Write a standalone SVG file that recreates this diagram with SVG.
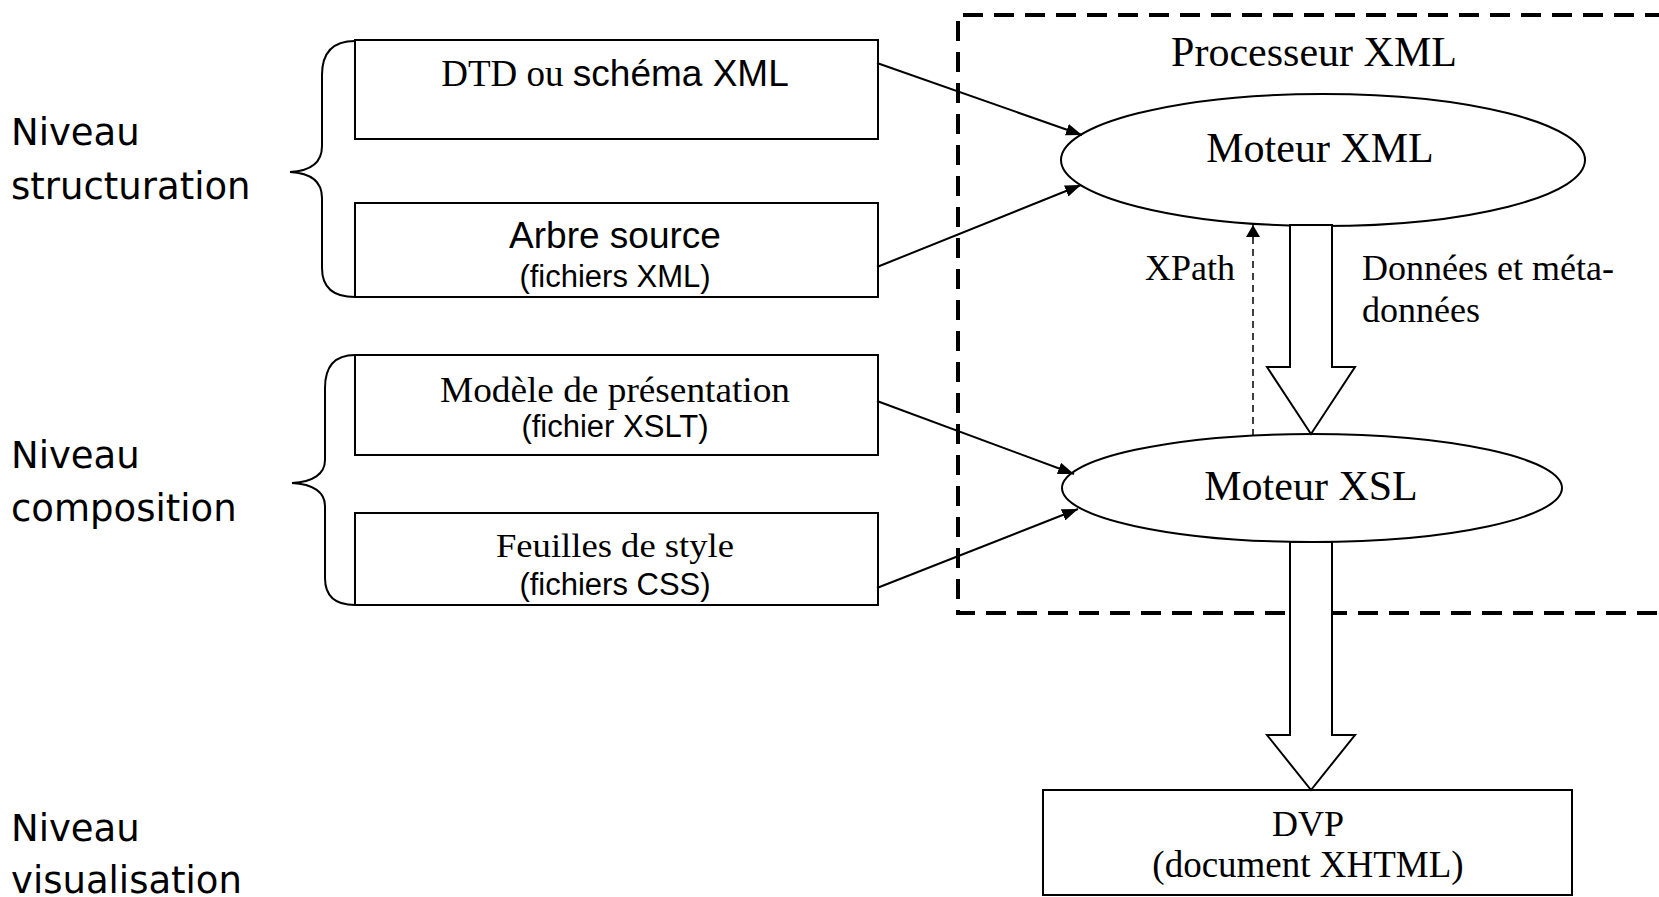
<svg xmlns="http://www.w3.org/2000/svg" width="1659" height="897" viewBox="0 0 1659 897">
<style>
.box{fill:#fff;stroke:#000;stroke-width:2}
.ell{fill:#fff;stroke:#000;stroke-width:2}
.brace{fill:none;stroke:#000;stroke-width:2}
.line{fill:none;stroke:#000;stroke-width:2}
.dline{fill:none;stroke:#000;stroke-width:1.5;stroke-dasharray:7 5}
.frame{fill:none;stroke:#000;stroke-width:4;stroke-dasharray:20 11}
.block{fill:#fff;stroke:#000;stroke-width:2;stroke-linejoin:miter}
.serif{font-family:"Liberation Serif","Times New Roman",serif;fill:#000}
.sans{font-family:"Liberation Sans",Arial,sans-serif;fill:#000}
.lbl{font-family:"DejaVu Sans",Verdana,sans-serif;font-size:37px;fill:#000}
</style>
<defs>
<marker id="ah" viewBox="0 0 16 12" refX="16" refY="6" markerWidth="16" markerHeight="12" markerUnits="userSpaceOnUse" orient="auto">
<path d="M0,0 L16,6 L0,12 Z" fill="#000"/>
</marker>
<marker id="ahs" viewBox="0 0 12 14" refX="12" refY="7" markerWidth="12" markerHeight="14" markerUnits="userSpaceOnUse" orient="auto">
<path d="M0,0 L12,7 L0,14 Z" fill="#000"/>
</marker>
</defs>

<g id="labels">
<text class="lbl" x="11" y="145">Niveau</text>
<text class="lbl" x="11" y="199">structuration</text>
<text class="lbl" x="11" y="468">Niveau</text>
<text class="lbl" x="11" y="521">composition</text>
<text class="lbl" x="11" y="841">Niveau</text>
<text class="lbl" x="11" y="893">visualisation</text>
</g>

<g id="braces">
<path class="brace" d="M355,41 C336,41 322,50 322,75 L322,146 C322,163 310,171 290,172 C310,173 322,181 322,198 L322,268 C322,290 336,297 355,297"/>
<path class="brace" d="M355,355 C337,355 325,364 325,388 L325,460 C325,474 313,482 292,483 C313,484 325,492 325,506 L325,578 C325,598 337,605 355,605"/>
</g>

<g id="frame">
<path class="frame" d="M1665,15 L958,15 L958,613 L1665,613"/>
<text class="serif" x="1314" y="66" font-size="42" text-anchor="middle">Processeur XML</text>
</g>

<g id="node-dtd">
<rect class="box" x="355" y="40" width="523" height="99"/>
<text x="615" y="86" font-size="37" text-anchor="middle"><tspan class="serif">DTD ou </tspan><tspan class="sans">schéma XML</tspan></text>
</g>

<g id="node-arbre">
<rect class="box" x="355" y="203" width="523" height="94"/>
<text class="sans" x="615" y="248" font-size="37" text-anchor="middle">Arbre source</text>
<text class="sans" x="615" y="287" font-size="31" text-anchor="middle">(fichiers XML)</text>
</g>

<g id="node-modele">
<rect class="box" x="355" y="355" width="523" height="100"/>
<text class="serif" x="615" y="402" font-size="35" text-anchor="middle" textLength="350" lengthAdjust="spacingAndGlyphs">Modèle de présentation</text>
<text class="sans" x="615" y="437" font-size="31" text-anchor="middle">(fichier XSLT)</text>
</g>

<g id="node-feuilles">
<rect class="box" x="355" y="513" width="523" height="92"/>
<text class="serif" x="615" y="557" font-size="34" text-anchor="middle" textLength="238" lengthAdjust="spacingAndGlyphs">Feuilles de style</text>
<text class="sans" x="615" y="595" font-size="31" text-anchor="middle">(fichiers CSS)</text>
</g>

<g id="node-moteur-xml">
<ellipse class="ell" cx="1323" cy="160" rx="262" ry="66"/>
<text class="serif" x="1320" y="162" font-size="42" text-anchor="middle">Moteur XML</text>
</g>

<g id="node-moteur-xsl">
<ellipse class="ell" cx="1312" cy="488" rx="250" ry="54"/>
<text class="serif" x="1311" y="500" font-size="42" text-anchor="middle">Moteur XSL</text>
</g>

<g id="node-dvp">
<rect class="box" x="1043" y="790" width="529" height="105"/>
<text class="serif" x="1308" y="836" font-size="36" text-anchor="middle">DVP</text>
<text class="serif" x="1308" y="877" font-size="37" text-anchor="middle">(document XHTML)</text>
</g>

<g id="connectors">
<line class="line" x1="877" y1="63" x2="1082" y2="135" marker-end="url(#ah)"/>
<line class="line" x1="877" y1="267" x2="1081" y2="185" marker-end="url(#ah)"/>
<line class="line" x1="877" y1="401" x2="1074" y2="474" marker-end="url(#ah)"/>
<line class="line" x1="877" y1="588" x2="1078" y2="509" marker-end="url(#ah)"/>
<line class="dline" x1="1253" y1="436" x2="1253" y2="225" marker-end="url(#ahs)"/>
<path class="block" d="M1290,225 L1332,225 L1332,367 L1355,367 L1311,434 L1267,367 L1290,367 Z"/>
<path class="block" d="M1290,542 L1332,542 L1332,735 L1355,735 L1311,790 L1267,735 L1290,735 Z"/>
<text class="serif" x="1145" y="280" font-size="36">XPath</text>
<text class="serif" x="1362" y="280" font-size="36">Données et méta-</text>
<text class="serif" x="1362" y="322" font-size="36">données</text>
</g>
</svg>
